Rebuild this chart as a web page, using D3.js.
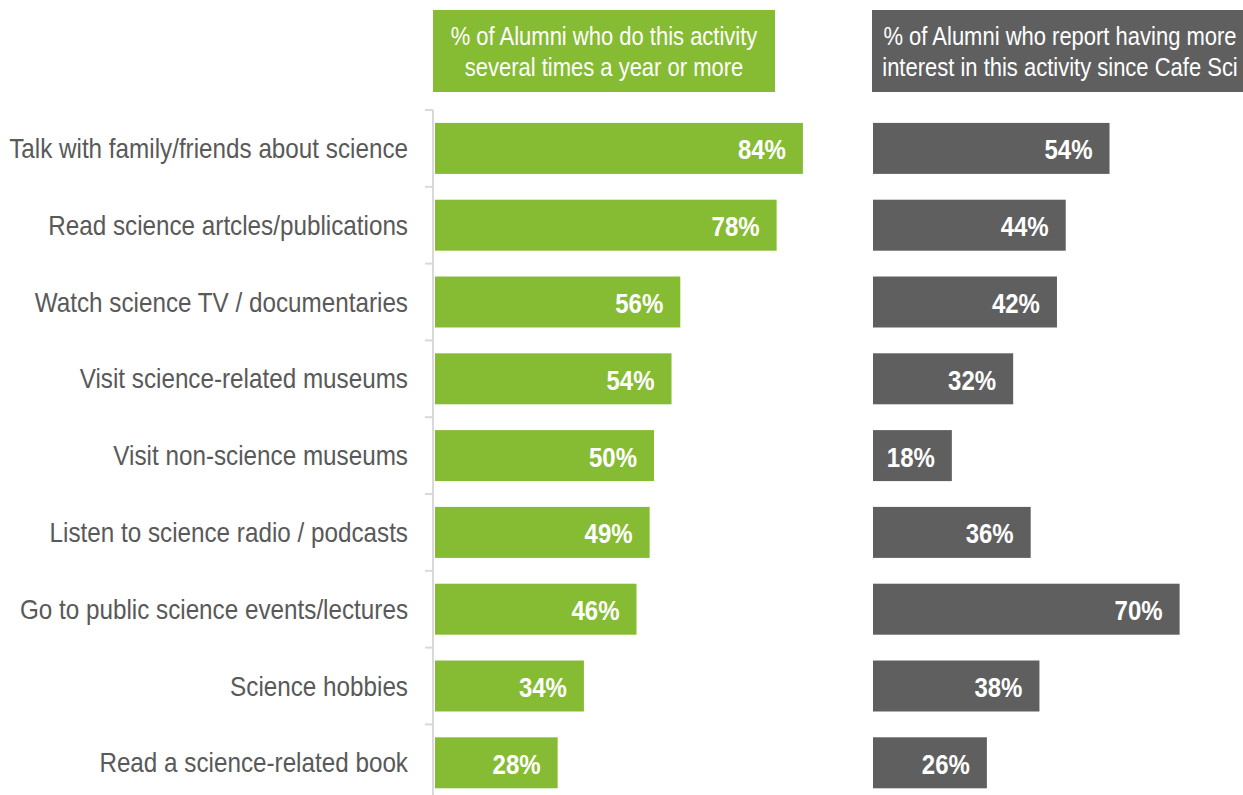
<!DOCTYPE html>
<html><head><meta charset="utf-8">
<script src="https://cdn.jsdelivr.net/npm/d3@7"></script>
<style>body{margin:0;background:#fff}svg{display:block}text{font-family:"Liberation Sans",Arial,sans-serif}</style>
</head><body>
<svg id="c" width="1243" height="795"></svg>
<script>
const categories = ["Talk with family/friends about science","Read science artcles/publications","Watch science TV / documentaries","Visit science-related museums","Visit non-science museums","Listen to science radio / podcasts","Go to public science events/lectures","Science hobbies","Read a science-related book"];
const doActivity = [84,78,56,54,50,49,46,34,28];
const moreInterest = [54,44,42,32,18,36,70,38,26];
const headerGreen = ["% of Alumni who do this activity","several times a year or more"];
const headerGray = ["% of Alumni who report having more","interest in this activity since Cafe Sci"];

const GREEN = "#86bc33", GRAY = "#5f5f5f", TXT = "#595959";
const SY = 1.15;
const svg = d3.select("#c");

const y = d3.scaleBand().domain(categories).range([110, 801.2]).paddingInner(0.336).paddingOuter(0.168);
const xG = d3.scaleLinear().domain([0,100]).range([435, 873]);
const xR = d3.scaleLinear().domain([0,100]).range([873, 1311]);

function stretchText(sel, x, yy){ return sel.attr("transform", `translate(${x},${yy}) scale(1,${SY})`); }

// headers
function header(x0, x1, lines, color){
  svg.append("rect").attr("x",x0).attr("y",10).attr("width",x1-x0).attr("height",82).attr("fill",color);
  lines.forEach((l,i)=>{
    stretchText(svg.append("text"), (x0+x1)/2, 45+i*31).attr("text-anchor","middle")
      .attr("fill","#fff").attr("font-size",22).text(l);
  });
}
header(433, 775, headerGreen, GREEN);
header(872, 1248, headerGray, GRAY);

// axis
const step = y.step(), gap = step - y.bandwidth();
const bounds = categories.map(c => y(c) - gap/2).concat([y(categories[categories.length-1]) + y.bandwidth() + gap/2]);
svg.append("line").attr("x1",433).attr("x2",433).attr("y1",bounds[0]).attr("y2",bounds[bounds.length-1]).attr("stroke","#d9d9d9").attr("stroke-width",2);
svg.selectAll(".tk").data(bounds).join("line").attr("x1",425).attr("x2",433).attr("y1",d=>d).attr("y2",d=>d).attr("stroke","#d9d9d9").attr("stroke-width",2);

// category labels
categories.forEach(c=>{
  stretchText(svg.append("text"), 408, y(c)+y.bandwidth()/2+9.5).attr("text-anchor","end")
    .attr("fill",TXT).attr("font-size",24.25).text(c);
});

function bars(vals, x, color){
  const g = svg.append("g");
  g.selectAll("rect").data(vals).join("rect")
    .attr("x", x(0)).attr("y",(d,i)=>y(categories[i])).attr("height",y.bandwidth())
    .attr("width", d=>x(d)-x(0)).attr("fill",color);
  vals.forEach((d,i)=>{
    stretchText(g.append("text"), x(d)-17, y(categories[i])+y.bandwidth()/2+11).attr("text-anchor","end")
      .attr("fill","#fff").attr("font-size",24).attr("font-weight","bold").text(d+"%");
  });
}
bars(doActivity, xG, GREEN);
bars(moreInterest, xR, GRAY);
</script>
</body></html>
